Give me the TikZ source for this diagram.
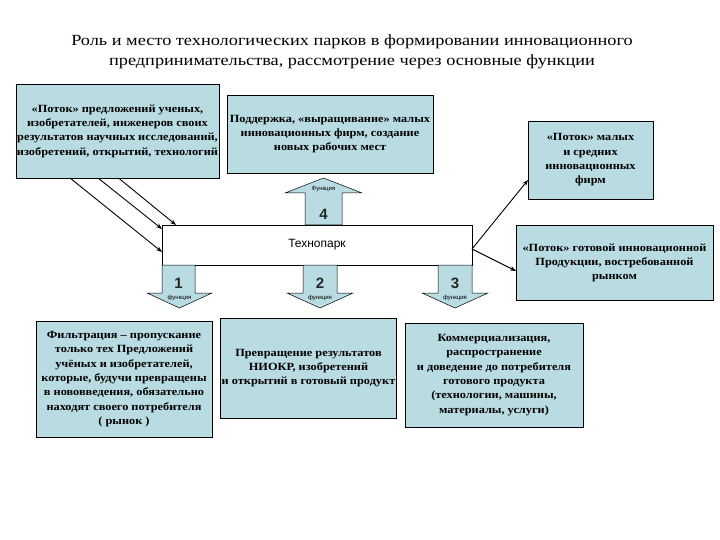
\documentclass[tikz,border=0pt]{standalone}
\usepackage{fontspec}
\setmainfont{Liberation Serif}
\newfontfamily\sansf{Liberation Sans}
\newfontfamily\titlefont[FakeStretch=1.18]{Liberation Serif}
\newfontfamily\boxfont[FakeStretch=1.12]{Liberation Serif}
\usetikzlibrary{arrows.meta,calc}
\definecolor{boxblue}{RGB}{184,220,226}
\begin{document}
\begin{tikzpicture}[x=1pt,y=-1pt,
  infobox/.style={draw=black, fill=boxblue, line width=0.8pt, align=center, inner sep=1pt,
    font=\boxfont\bfseries\fontsize{11}{14.3}\selectfont},
  blockarrow/.style={draw=black, fill=boxblue, line width=0.5pt},
  numlabel/.style={font=\sansf\bfseries\fontsize{15}{15}\selectfont, text=black!85},
  funclabel/.style={font=\sansf\fontsize{6}{6}\selectfont, inner sep=0pt},
  flow/.style={draw=black, line width=0.9pt, -{Stealth[length=6pt,width=4.5pt]}}]
\useasboundingbox (0,0) rectangle (720,540);

% title
\node[align=center, font=\titlefont\fontsize{15.5}{20.5}\selectfont] (title) at (352,52)
  {Роль и место технологических парков в формировании инновационного\\
   предпринимательства, рассмотрение через основные функции};

% top boxes
\node[infobox, minimum width=199pt, minimum height=94pt] (A) at (117.5,131)
  {«Поток» предложений ученых,\\ изобретателей, инженеров своих\\ результатов научных исследований,\\ изобретений, открытий, технологий};
\node[infobox, minimum width=206pt, minimum height=78pt] (B) at (330,134)
  {Поддержка, «выращивание» малых\\ инновационных фирм, создание\\ новых рабочих мест};
\node[infobox, minimum width=125pt, minimum height=78pt] (C) at (590.5,160)
  {«Поток» малых\\ и средних\\ инновационных\\ фирм};
\node[infobox, minimum width=197pt, minimum height=75pt] (D) at (614.5,263)
  {«Поток» готовой инновационной\\ Продукции, востребованной\\ рынком};

% technopark
\node[draw=black, fill=white, line width=0.8pt, minimum width=310pt, minimum height=40pt,
  font=\sansf\fontsize{12}{12}\selectfont] (T) at (317,245) {Технопарк};

% block arrow 4 (up)
\path[blockarrow] (305,225) -- (305,193) -- (285,193) -- (323.5,178) -- (362,193) -- (342,193) -- (342,225) -- cycle;
\node[numlabel] (n4) at (323.5,214) {4};
\node[funclabel] (f4) at (323.5,189) {Функция};

% block arrows 1,2,3 (down)
\path[blockarrow] (162,265) -- (162,293) -- (147,293) -- (179.5,308) -- (212,293) -- (195,293) -- (195,265) -- cycle;
\path[blockarrow] (303,265) -- (303,293) -- (287,293) -- (320,308) -- (353,293) -- (337,293) -- (337,265) -- cycle;
\path[blockarrow] (438,265) -- (438,293) -- (422,293) -- (455,308) -- (488,293) -- (472,293) -- (472,265) -- cycle;
\node[numlabel] (n1) at (178.5,283) {1};
\node[numlabel] (n2) at (320,283) {2};
\node[numlabel] (n3) at (455,283) {3};
\node[funclabel] (f1) at (179.5,298) {функция};
\node[funclabel] (f2) at (320,298) {функция};
\node[funclabel] (f3) at (455,298) {функция};

% bottom boxes
\node[infobox, minimum width=176pt, minimum height=116pt] (E) at (124,379)
  {Фильтрация – пропускание\\ только тех Предложений\\ учёных и изобретателей,\\ которые, будучи превращены\\ в нововведения, обязательно\\ находят своего потребителя\\ ( рынок )};
\node[infobox, minimum width=173pt, minimum height=100pt] (F) at (308.5,368)
  {Превращение результатов\\ НИОКР, изобретений\\ и открытий в готовый продукт};
\node[infobox, minimum width=178pt, minimum height=104pt] (G) at (494,375)
  {Коммерциализация,\\ распространение\\ и доведение до потребителя\\ готового продукта\\ (технологии, машины,\\ материалы, услуги)};

% connector end points
\coordinate (a1) at (70,178);
\coordinate (a2) at (98,178);
\coordinate (a3) at (118.5,178);
\coordinate (t1) at (162,252);
\coordinate (t2) at (162,229);
\coordinate (t3) at (176,225);
\coordinate (tr) at (472,249);
\coordinate (ce) at (528,180);
\coordinate (de) at (516,271);

\draw[flow] (a1) -- (t1);
\draw[flow] (a2) -- (t2);
\draw[flow] (a3) -- (t3);
\draw[flow] (tr) -- (ce);
\draw[flow] (tr) -- (de);
\end{tikzpicture}
\end{document}
